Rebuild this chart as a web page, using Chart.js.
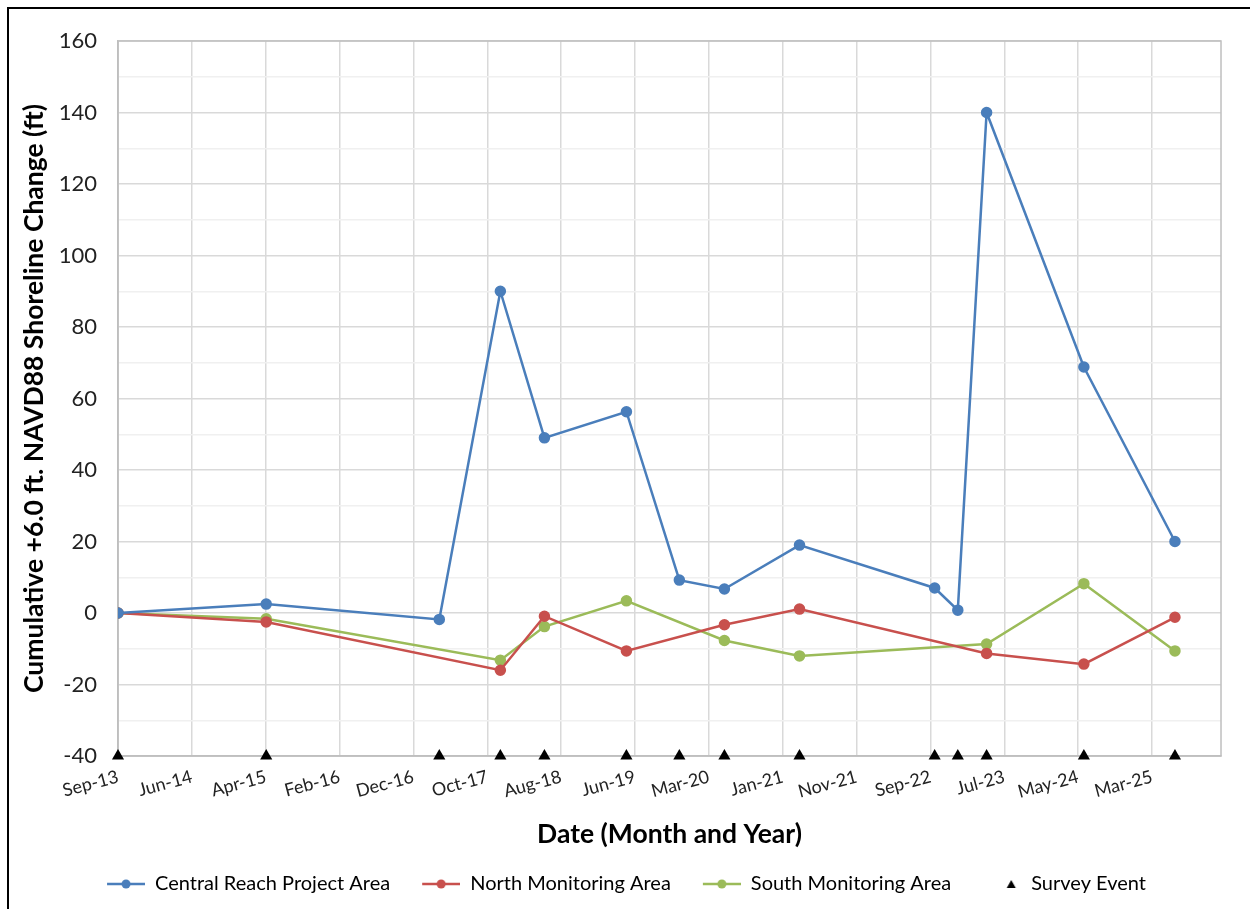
<!DOCTYPE html>
<html>
<head>
<meta charset="utf-8">
<script src="https://cdn.jsdelivr.net/npm/chart.js@4.4.1/dist/chart.umd.min.js"></script>
<style>
  html, body { margin: 0; padding: 0; background: #fff; }
  #wrap { width: 1250px; height: 909px; }
</style>
</head>
<body>
<div id="wrap"><canvas id="myChart" width="1250" height="909"></canvas></div>
<script>
// survey dates and cumulative shoreline change (ft)
const surveyDates = [
  "2013-09-01", "2015-04-26", "2017-03-29", "2017-12-02", "2018-05-30",
  "2019-04-28", "2019-11-29", "2020-05-30", "2021-03-31", "2022-10-01",
  "2023-01-03", "2023-04-30", "2024-05-29", "2025-06-03"
];
const centralValues = [0, 2.5, -1.8, 90, 49, 56.3, 9.2, 6.7, 19, 7.0, 0.8, 140, 68.8, 20];
const northValues = [0, -2.5, null, -16, -0.9, -10.6, null, -3.3, 1.1, null, null, -11.3, -14.3, -1.2];
const southValues = [0, -1.6, null, -13.2, -3.8, 3.4, null, -7.7, -12, null, null, -8.7, 8.2, -10.6];
const surveyEventLevel = -40;

const axisStart = "2013-09-01";
const axisEnd = "2025-12-07";
const tickStepDays = 300;
const monthNames = ["Jan", "Feb", "Mar", "Apr", "May", "Jun", "Jul", "Aug", "Sep", "Oct", "Nov", "Dec"];

const dayMs = 86400000;
const startMs = Date.parse(axisStart + "T00:00:00Z");
const toDays = (s) => (Date.parse(s + "T00:00:00Z") - startMs) / dayMs;
const dayLabel = (v) => {
  const d = new Date(startMs + v * dayMs);
  return monthNames[d.getUTCMonth()] + "-" + String(d.getUTCFullYear()).slice(2);
};

const toPoints = (vals) => surveyDates.map((s, i) => ({ x: toDays(s), y: vals[i] }));

const blue = "#4a7ebb";
const red = "#c8504d";
const green = "#9bbb59";
const FONT = "Lato, 'Open Sans', sans-serif";

// legend symbols: line with a dot, like the spreadsheet legend
function lineMarker(color) {
  const c = document.createElement("canvas");
  c.width = 60; c.height = 14;
  const g = c.getContext("2d");
  g.strokeStyle = color; g.lineWidth = 2.5;
  g.beginPath(); g.moveTo(22, 7); g.lineTo(60, 7); g.stroke();
  g.fillStyle = color;
  g.beginPath(); g.arc(41, 7, 4.5, 0, Math.PI * 2); g.fill();
  return c;
}
function triMarker() {
  const c = document.createElement("canvas");
  c.width = 60; c.height = 14;
  const g = c.getContext("2d");
  g.fillStyle = "#000";
  g.beginPath(); g.moveTo(50, 3); g.lineTo(54.5, 11); g.lineTo(45.5, 11); g.closePath(); g.fill();
  return c;
}

const frame = {
  id: "frame",
  beforeDraw(chart) {
    const ctx = chart.ctx;
    ctx.save();
    ctx.strokeStyle = "#000";
    ctx.lineWidth = 2;
    ctx.beginPath();
    ctx.moveTo(8, 909); ctx.lineTo(8, 8); ctx.lineTo(1250, 8);
    ctx.stroke();
    ctx.restore();
  },
  beforeDatasetsDraw(chart) {
    const a = chart.chartArea, ctx = chart.ctx;
    ctx.save();
    ctx.strokeStyle = "#bfbfbf";
    ctx.lineWidth = 1.5;
    ctx.strokeRect(a.left, a.top, a.right - a.left, a.bottom - a.top);
    ctx.restore();
  }
};

new Chart(document.getElementById("myChart"), {
  type: "line",
  data: {
    datasets: [
      {
        label: "Central Reach Project Area",
        data: toPoints(centralValues),
        borderColor: blue, backgroundColor: blue,
        borderWidth: 2.5, pointRadius: 4.5, pointHoverRadius: 4.5,
        legendSymbol: lineMarker(blue)
      },
      {
        label: "North Monitoring Area",
        data: toPoints(northValues),
        borderColor: red, backgroundColor: red,
        borderWidth: 2.5, pointRadius: 4.5, pointHoverRadius: 4.5, spanGaps: true,
        legendSymbol: lineMarker(red)
      },
      {
        label: "South Monitoring Area",
        data: toPoints(southValues),
        borderColor: green, backgroundColor: green,
        borderWidth: 2.5, pointRadius: 4.5, pointHoverRadius: 4.5, spanGaps: true,
        legendSymbol: lineMarker(green)
      },
      {
        label: "Survey Event",
        data: surveyDates.map((s) => ({ x: toDays(s), y: surveyEventLevel })),
        showLine: false,
        pointStyle: "triangle",
        pointRadius: 7, pointHoverRadius: 7,
        borderColor: "#000", backgroundColor: "#000", borderWidth: 0,
        clip: false,
        legendSymbol: triMarker()
      }
    ]
  },
  options: {
    responsive: false,
    animation: false,
    events: [],
    layout: { padding: { left: 10, top: 41, right: 29, bottom: 5 } },
    plugins: {
      tooltip: { enabled: false },
      legend: {
        position: "bottom",
        labels: {
          usePointStyle: true,
          pointStyleWidth: 60,
          padding: 10,
          color: "#222",
          font: { family: FONT, size: 20 },
          generateLabels: (chart) => chart.data.datasets.map((ds, i) => ({
            text: ds.label,
            pointStyle: ds.legendSymbol,
            fillStyle: ds.backgroundColor,
            strokeStyle: ds.borderColor,
            lineWidth: 0,
            hidden: false,
            datasetIndex: i
          }))
        }
      }
    },
    scales: {
      x: {
        type: "linear",
        min: 0,
        max: toDays(axisEnd),
        afterFit: (s) => { s.height = 108; },
        afterBuildTicks: (s) => {
          const ticks = [];
          for (let v = 0; v <= s.max; v += tickStepDays) ticks.push({ value: v });
          s.ticks = ticks;
        },
        border: { color: "#bfbfbf", width: 1.5 },
        grid: { color: "#d9d9d9", lineWidth: 1.5, drawTicks: false },
        ticks: {
          autoSkip: false,
          minRotation: 15,
          maxRotation: 15,
          padding: 10,
          color: "#222",
          font: { family: FONT, size: 18 },
          callback: (v) => dayLabel(v)
        },
        title: {
          display: true,
          text: "Date (Month and Year)",
          color: "#000",
          font: { family: FONT, size: 26.5, weight: "bold" },
          padding: { top: 0, bottom: 14 }
        }
      },
      y: {
        min: -40,
        max: 160,
        afterFit: (s) => { s.width = 108; },
        border: { color: "#bfbfbf", width: 1.5 },
        grid: {
          drawTicks: false,
          lineWidth: 1.5,
          color: (c) => (c.tick.value % 20 === 0 ? "#d9d9d9" : "#f0f0f0")
        },
        ticks: {
          stepSize: 10,
          padding: 21,
          color: "#222",
          font: { family: FONT, size: 22 },
          callback: (v) => (v % 20 === 0 ? String(v) : "")
        },
        title: {
          display: true,
          text: "Cumulative +6.0 ft. NAVD88 Shoreline Change (ft)",
          color: "#000",
          font: { family: FONT, size: 26.5, weight: "bold" },
          padding: { top: 9, bottom: 0 }
        }
      }
    }
  },
  plugins: [frame]
});
</script>
</body>
</html>
